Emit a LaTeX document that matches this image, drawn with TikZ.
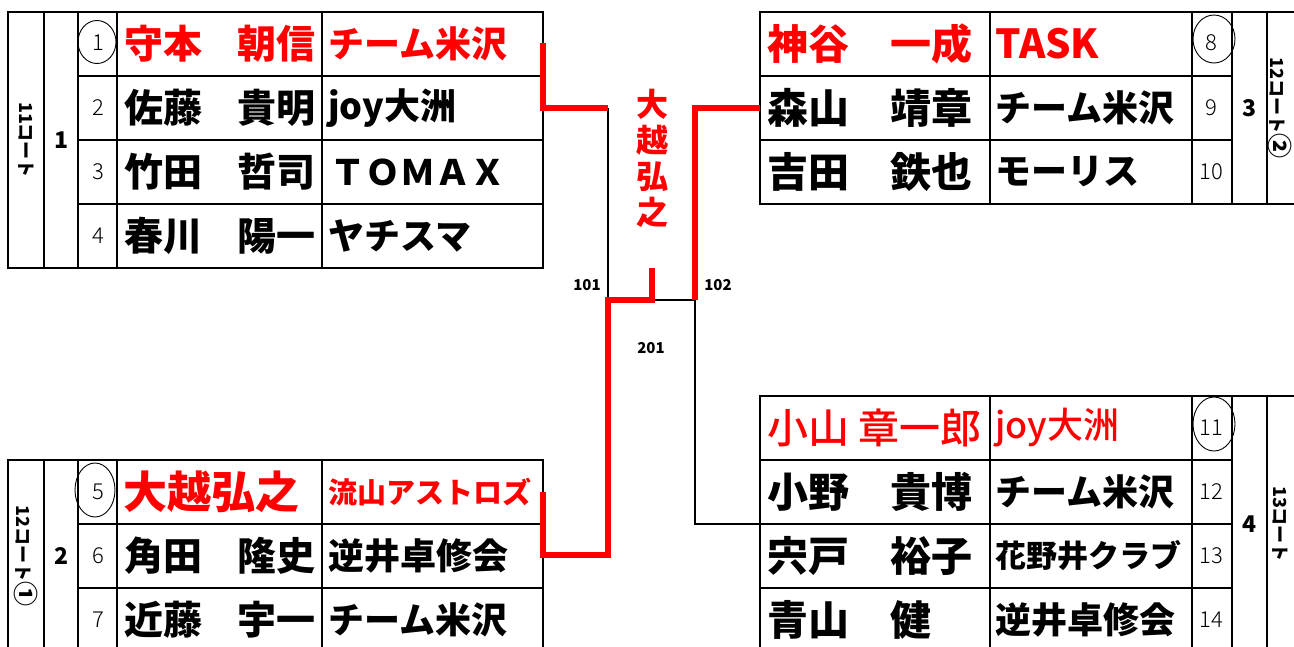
\documentclass[tikz,border=0pt]{standalone}
\usepackage{fontspec}
\usepackage{xcolor}
\usepackage{tikz}
\usetikzlibrary{calc}
\setmainfont{Noto Sans CJK JP}
\IfFontExistsTF{Noto Sans CJK JP Light}
  {\newfontfamily\thinfont{Noto Sans CJK JP Light}}
  {\newfontfamily\thinfont{Noto Sans CJK JP}}
\IfFontExistsTF{Noto Sans CJK JP Medium}
  {\newfontfamily\midfont{Noto Sans CJK JP Medium}}
  {\newfontfamily\midfont{Noto Sans CJK JP}}
\newcommand{\namegap}{\hspace{0.9em}}
\newcommand{\courtmark}[1]{{\fontsize{25}{25}\selectfont #1}}

\begin{document}
\begin{tikzpicture}[x = 1pt, y = -1pt,
    pname/.style = {anchor = west, inner sep = 0pt, font = \fontsize{39}{39}\selectfont\bfseries},
    pnamer/.style = {anchor = west, inner sep = 0pt, font = \fontsize{41}{41}\selectfont\bfseries},
    club/.style = {anchor = west, inner sep = 0pt, font = \fontsize{36}{36}\selectfont\bfseries},
    seedno/.style = {inner sep = 0pt, font = \fontsize{22}{22}\selectfont\thinfont},
    grp/.style = {inner sep = 0pt, font = \fontsize{23}{23}\selectfont\bfseries},
    court/.style = {inner sep = 0pt, rotate = -90, font = \fontsize{18}{18}\selectfont\bfseries},
    match/.style = {inner sep = 0pt, font = \fontsize{15}{15}\selectfont\bfseries},
    won/.style = {text = red}]
						\useasboundingbox (0,0) rectangle (1294,646);
						\clip (0,0) rectangle (1294,646);

						% tables
						\begin{scope}[line width = 2pt]
							\draw (8,12) rectangle (543,268);
							\draw (44,12) -- (44,268);
							\draw (78,12) -- (78,268);
							\draw (117,12) -- (117,268);
							\draw (322,12) -- (322,268);
							\draw (78,76) -- (543,76);
							\draw (78,140) -- (543,140);
							\draw (78,204) -- (543,204);

							\draw (8,460) rectangle (543,652);
							\draw (44,460) -- (44,652);
							\draw (78,460) -- (78,652);
							\draw (117,460) -- (117,652);
							\draw (322,460) -- (322,652);
							\draw (78,524) -- (543,524);
							\draw (78,588) -- (543,588);

							\draw (760,12) rectangle (1304,204);
							\draw (990,12) -- (990,204);
							\draw (1192,12) -- (1192,204);
							\draw (1232,12) -- (1232,204);
							\draw (1267,12) -- (1267,204);
							\draw (760,76) -- (1232,76);
							\draw (760,140) -- (1232,140);

							\draw (760,396) rectangle (1304,652);
							\draw (990,396) -- (990,652);
							\draw (1192,396) -- (1192,652);
							\draw (1232,396) -- (1232,652);
							\draw (1267,396) -- (1267,652);
							\draw (760,460) -- (1232,460);
							\draw (760,524) -- (1232,524);
							\draw (760,588) -- (1232,588);
						\end{scope}

						% seeds
						\begin{scope}[line width = 0.9pt]
							\draw (97,42) ellipse [x radius = 19pt, y radius = 21.5pt];
							\draw (95,490) ellipse [x radius = 20pt, y radius = 27pt];
							\draw (1214,39) ellipse [x radius = 21pt, y radius = 24pt];
							\draw (1214,424) ellipse [x radius = 21pt, y radius = 27pt];
						\end{scope}

						% pool 1
						\begin{scope}
							\node [court] (c1) at (26,140) {11コート};
							\node [grp] (g1) at (62,140) {1};
							\node [seedno] (s1) at (98,43) {1};
							\node [seedno] (s2) at (98,108) {2};
							\node [seedno] (s3) at (98,172) {3};
							\node [seedno] (s4) at (98,236) {4};
							\node [pname, won] (p1) at (124,44) {守本\namegap 朝信};
							\node [pname] (p2) at (124,108) {佐藤\namegap 貴明};
							\node [pname] (p3) at (124,172) {竹田\namegap 哲司};
							\node [pname] (p4) at (124,236) {春川\namegap 陽一};
							\node [club, won] (t1) at (328,44) {チーム米沢};
							\node [club] (t2) at (328,108) {joy大洲};
							\node [club, font = \fontsize{35}{35}\selectfont\bfseries] (t3) at (330,172) {ＴＯＭＡＸ};
							\node [club] (t4) at (328,236) {ヤチスマ};
						\end{scope}

						% pool 2
						\begin{scope}
							\node [court] (c2) at (26,556) {12コート\courtmark{①}};
							\node [grp] (g2) at (62,556) {2};
							\node [seedno] (s5) at (98,492) {5};
							\node [seedno] (s6) at (98,556) {6};
							\node [seedno] (s7) at (98,620) {7};
							\node [pname, won, font = \fontsize{44}{44}\selectfont\bfseries] (p5) at (123,492) {大越弘之};
							\node [pname] (p6) at (124,556) {角田\namegap 隆史};
							\node [pname] (p7) at (124,620) {近藤\namegap 宇一};
							\node [club, won, font = \fontsize{29}{29}\selectfont\bfseries] (t5) at (328,492) {流山アストロズ};
							\node [club] (t6) at (328,556) {逆井卓修会};
							\node [club] (t7) at (328,620) {チーム米沢};
						\end{scope}

						% pool 3
						\begin{scope}
							\node [court] (c3) at (1280,108) {12コート\courtmark{②}};
							\node [grp] (g3) at (1249,108) {3};
							\node [seedno] (s8) at (1211,43) {8};
							\node [seedno] (s9) at (1211,108) {9};
							\node [seedno] (s10) at (1211,172) {10};
							\node [pnamer, won] (p8) at (767,44) {神谷　一成};
							\node [pnamer] (p9) at (767,108) {森山　靖章};
							\node [pnamer] (p10) at (767,172) {吉田　鉄也};
							\node [club, won, font = \fontsize{40}{40}\selectfont\bfseries] (t8) at (995,44) {TASK};
							\node [club] (t9) at (995,108) {チーム米沢};
							\node [club] (t10) at (995,172) {モーリス};
						\end{scope}

						% pool 4
						\begin{scope}
							\node [court] (c4) at (1280,524) {13コート};
							\node [grp] (g4) at (1249,524) {4};
							\node [seedno] (s11) at (1211,428) {11};
							\node [seedno] (s12) at (1211,492) {12};
							\node [seedno] (s13) at (1211,556) {13};
							\node [seedno] (s14) at (1211,620) {14};
							\node [pnamer, won, font = \fontsize{41}{41}\selectfont\midfont] (p11) at (767,428) {小山 章一郎};
							\node [pnamer] (p12) at (767,492) {小野　貴博};
							\node [pnamer] (p13) at (767,556) {宍戸　裕子};
							\node [pnamer] (p14) at (767,620) {青山　健};
							\node [club, won, font = \fontsize{36}{36}\selectfont\midfont] (t11) at (995,428) {joy大洲};
							\node [club] (t12) at (995,492) {チーム米沢};
							\node [club, font = \fontsize{31}{31}\selectfont\bfseries] (t13) at (995,556) {花野井クラブ};
							\node [club] (t14) at (995,620) {逆井卓修会};
						\end{scope}

						% bracket
						\coordinate (a1) at (543,43);
						\coordinate (a2) at (543,108);
						\coordinate (b1) at (543,492);
						\coordinate (b2) at (543,555);
						\coordinate (e1) at (760,108);
						\coordinate (e2) at (760,524);
						\coordinate (l1) at (608,108);
						\coordinate (l2) at (608,300);
						\coordinate (l3) at (608,555);
						\coordinate (r1) at (695,108);
						\coordinate (r2) at (695,300);
						\coordinate (r3) at (695,524);
						\coordinate (m1) at (652,300);
						\coordinate (m2) at (652,268);
						\begin{scope}[line width = 2pt]
							\draw (l1) -- (l2);
							\draw (m1) -- (r2);
							\draw (r2) -- (r3) -- (e2);
						\end{scope}
						\begin{scope}[red, line width = 5.5pt]
							\draw (a1) -- (a2) -- (l1);
							\draw (b1) -- (b2) -- (l3) -- (l2) -- (m1) -- (m2);
							\draw (e1) -- (r1) -- (r2);
						\end{scope}
						\begin{scope}
							\node [match] (k101) at (587,285) {101};
							\node [match] (k102) at (718,285) {102};
							\node [match] (k201) at (651,348) {201};
							\node [align = center, inner sep = 0pt, text = red, font = \fontsize{32}{36}\selectfont\bfseries] (champ) at (652,158) {大\\越\\弘\\之};
						\end{scope}
					\end{tikzpicture}
\end{document}
